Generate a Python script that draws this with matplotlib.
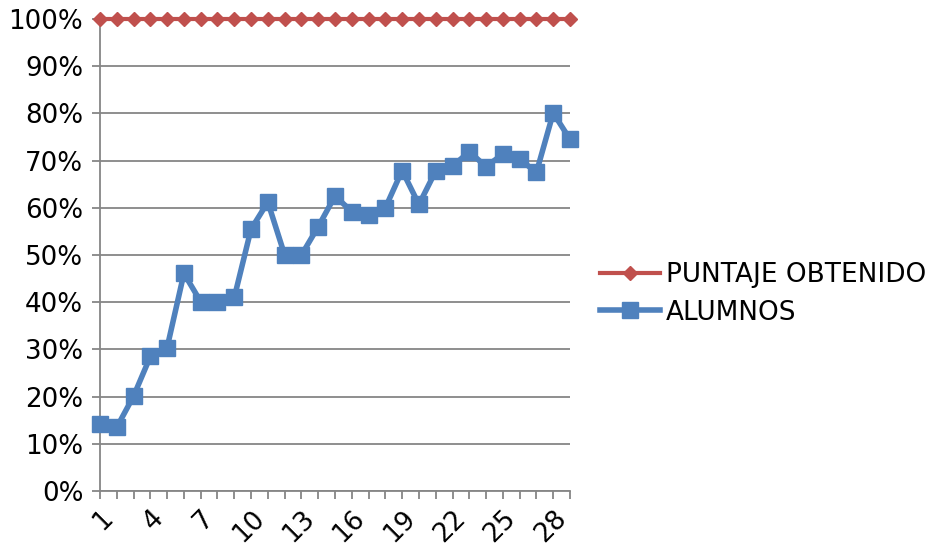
import matplotlib
matplotlib.use("Agg")
import matplotlib.pyplot as plt
from matplotlib.ticker import FuncFormatter

plt.rcParams["font.family"] = ["DejaVu Sans"]

x_values = list(range(1, 30))
puntaje = [1.0] * 29
alumnos = [0.143, 0.135, 0.201, 0.285, 0.304, 0.461, 0.401, 0.400, 0.410, 0.555,
           0.612, 0.500, 0.500, 0.560, 0.625, 0.592, 0.585, 0.600, 0.679, 0.607,
           0.678, 0.688, 0.719, 0.687, 0.714, 0.703, 0.675, 0.801, 0.745]
series_names = ["PUNTAJE OBTENIDO", "ALUMNOS"]
y_ticks = [i / 10 for i in range(11)]
x_label_every = 3

RED = "#C0504D"
BLUE = "#4F81BD"
GRID = "#868686"

fig = plt.figure(figsize=(9.29, 5.46), dpi=100)
ax = fig.add_axes([100 / 929, 55 / 546, 470 / 929, 472 / 546])

ax.plot(x_values, alumnos, color=BLUE, lw=4.0, marker="s", ms=11.5,
        markeredgecolor=BLUE, label=series_names[1], clip_on=False, zorder=4)
ax.plot(x_values, puntaje, color=RED, lw=3.0, marker="D", ms=7.5,
        markeredgecolor=RED, label=series_names[0], clip_on=False, zorder=5)

ax.set_xlim(1, 29)
ax.set_ylim(0, 1)
ax.set_yticks(y_ticks)
ax.yaxis.set_major_formatter(FuncFormatter(lambda v, p: f"{v*100:.0f}%"))
ax.set_xticks(x_values)
ax.set_xticklabels([str(v) if (v - 1) % x_label_every == 0 else "" for v in x_values],
                   rotation=45, ha="right", rotation_mode="anchor")

ax.grid(axis="y", color=GRID, lw=1.3, zorder=0)
ax.set_axisbelow(True)
for s in ["top", "right"]:
    ax.spines[s].set_visible(False)
for s in ["left", "bottom"]:
    ax.spines[s].set_color(GRID)
    ax.spines[s].set_linewidth(1.3)

ax.tick_params(axis="both", colors=GRID, labelcolor="black", labelsize=18.8,
               length=6, width=1.3, direction="out")
ax.tick_params(axis="y", pad=6)
ax.tick_params(axis="x", pad=4)

handles, labels = ax.get_legend_handles_labels()
leg = fig.legend(handles[::-1], labels[::-1], loc="center left",
                 bbox_to_anchor=(590 / 929, 1 - 294 / 546), frameon=False,
                 fontsize=18.9, handlelength=2.25, handletextpad=0.25,
                 labelspacing=0.42, borderaxespad=0)

fig.savefig("out.png", dpi=100)
